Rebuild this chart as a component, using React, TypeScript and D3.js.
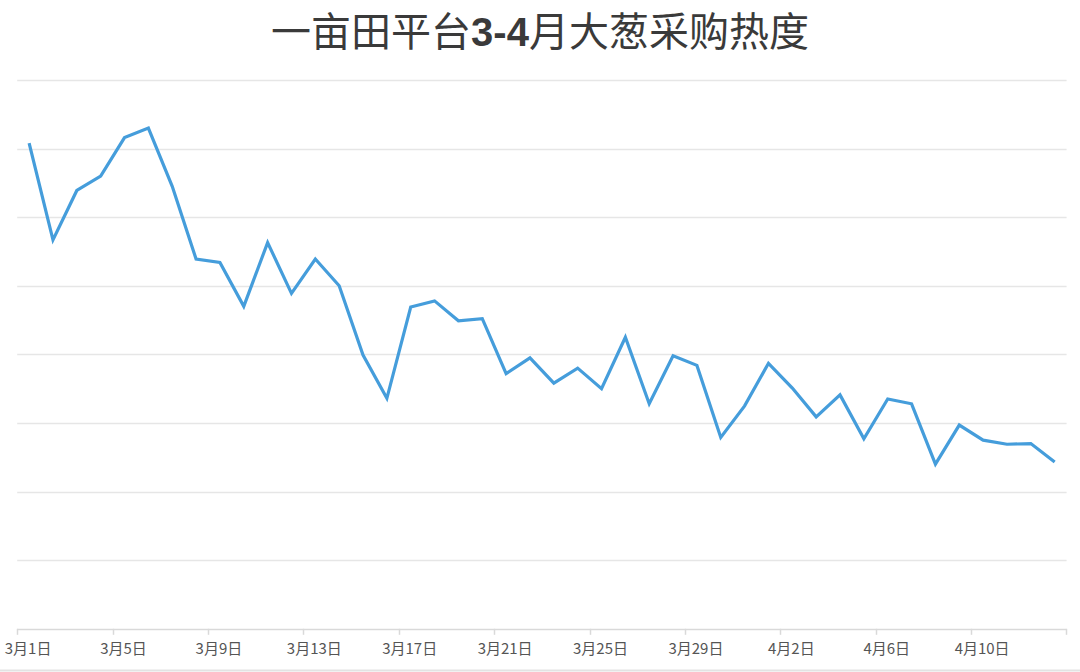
import React from "react";
import * as d3 from "d3";

const TITLE_A = "一亩田平台";
const TITLE_B = "3-4";
const TITLE_C = "月大葱采购热度";

const categories: string[] = [
  "3月1日", "3月2日", "3月3日", "3月4日", "3月5日", "3月6日", "3月7日", "3月8日",
  "3月9日", "3月10日", "3月11日", "3月12日", "3月13日", "3月14日", "3月15日", "3月16日",
  "3月17日", "3月18日", "3月19日", "3月20日", "3月21日", "3月22日", "3月23日", "3月24日",
  "3月25日", "3月26日", "3月27日", "3月28日", "3月29日", "3月30日", "3月31日", "4月1日",
  "4月2日", "4月3日", "4月4日", "4月5日", "4月6日", "4月7日", "4月8日", "4月9日",
  "4月10日", "4月11日", "4月12日", "4月13日",
];

const heat: number[] = [
  70.8, 56.7, 63.9, 66.0, 71.6, 73.0, 64.5, 53.9, 53.4, 47.0, 56.3,
  48.9, 53.9, 50.0, 39.9, 33.6, 46.9, 47.8, 44.9, 45.2, 37.2, 39.5,
  35.8, 38.0, 35.0, 42.5, 32.8, 39.8, 38.4, 27.9, 32.5, 38.7, 35.1,
  30.9, 34.1, 27.7, 33.5, 32.8, 24.0, 29.7, 27.5, 26.9, 27.0, 24.3,
];

const yTicks: number[] = [0, 10, 20, 30, 40, 50, 60, 70, 80];
const labelEvery = 4;

const W = 1080;
const H = 672;

export default function App() {
  const x = d3
    .scaleBand<string>()
    .domain(categories)
    .range([17.2, 1066.6])
    .paddingInner(0)
    .paddingOuter(0);
  const y = d3.scaleLinear().domain([0, 80]).range([628.8, 80]);

  const line = d3
    .line<number>()
    .x((_, i) => (x(categories[i]) as number) + x.bandwidth() / 2)
    .y((d) => y(d));

  const x0 = x.range()[0];
  const x1 = x.range()[1];

  const tickCats = categories.filter((_, i) => i % labelEvery === 0);

  return (
    <div style={{ position: "absolute", left: 0, top: 0 }}>
      <svg width={W} height={H} style={{ display: "block", background: "#fff" }}>
        <text
          x={540}
          y={46}
          textAnchor="middle"
          fontFamily="'Noto Sans CJK SC', 'Noto Sans', sans-serif"
          fontSize={40}
          fill="#3a3a3a"
          fontWeight={400}
        >
          {TITLE_A}
          <tspan fontFamily="'Liberation Sans', Arial, sans-serif" fontWeight={700}>
            {TITLE_B}
          </tspan>
          {TITLE_C}
        </text>

        {yTicks
          .filter((t) => t !== 0)
          .map((t) => (
            <line
              key={t}
              x1={x0}
              x2={x1}
              y1={Math.round(y(t)) + 0.5}
              y2={Math.round(y(t)) + 0.5}
              stroke="#e6e6e6"
              strokeWidth={1.5}
            />
          ))}

        {/* x axis */}
        <line
          x1={x0}
          x2={x1}
          y1={Math.round(y(0)) + 0.5}
          y2={Math.round(y(0)) + 0.5}
          stroke="#d9d9d9"
          strokeWidth={1.5}
        />
        {tickCats.map((c) => (
          <line
            key={"t" + c}
            x1={Math.round(x(c) as number) + 0.5}
            x2={Math.round(x(c) as number) + 0.5}
            y1={y(0)}
            y2={y(0) + 6}
            stroke="#d9d9d9"
            strokeWidth={1.5}
          />
        ))}
        <line
          x1={Math.round(x1) - 0.5}
          x2={Math.round(x1) - 0.5}
          y1={y(0)}
          y2={y(0) + 6}
          stroke="#d9d9d9"
          strokeWidth={1.5}
        />
        {tickCats.map((c) => (
          <text
            key={"l" + c}
            x={(x(c) as number) + x.bandwidth() / 2 - 1}
            y={654}
            textAnchor="middle"
            fontFamily="'Noto Sans CJK SC', 'Noto Sans', sans-serif"
            fontSize={15}
            fill="#555555"
          >
            {c}
          </text>
        ))}

        <path
          d={line(heat) || ""}
          fill="none"
          stroke="#459ddb"
          strokeWidth={3.2}
          strokeLinejoin="miter"
        />

        <line x1={0} x2={W} y1={670.5} y2={670.5} stroke="#e3e3e3" strokeWidth={2} />
      </svg>
    </div>
  );
}
